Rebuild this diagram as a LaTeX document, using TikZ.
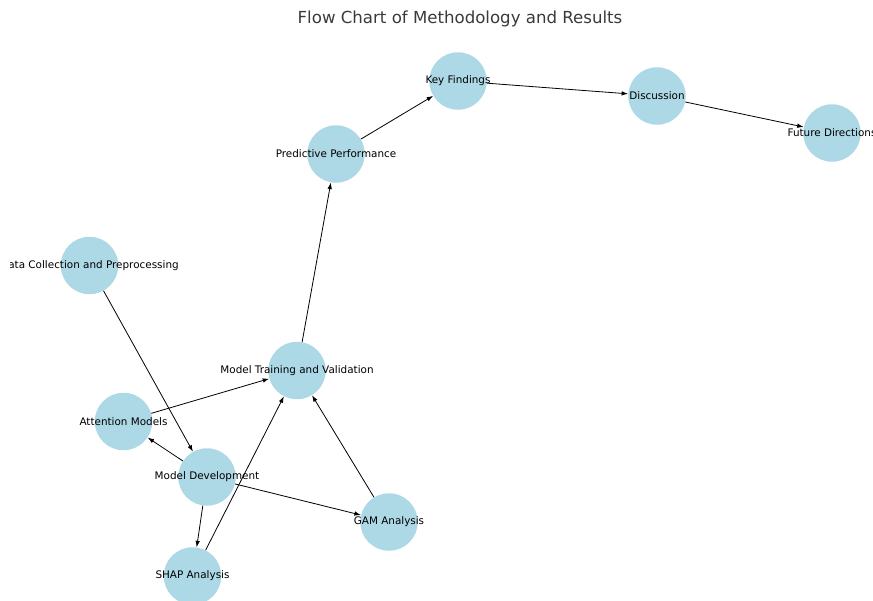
\documentclass[tikz,border=0pt]{standalone}
\usepackage{fontspec}
\setmainfont{DejaVu Sans}
\usetikzlibrary{arrows.meta}
\definecolor{nodeblue}{HTML}{ADD8E6}
\definecolor{titlegray}{HTML}{3A3A3A}
\begin{document}
\begin{tikzpicture}[x=1pt,y=-1pt,
  circ/.style={circle,fill=nodeblue,draw=none,minimum size=57.5pt,inner sep=0pt},
  lab/.style={font=\fontsize{10.4}{12}\selectfont,text=black,inner sep=0pt},
  edge/.style={draw=black,line width=0.8pt,-{Latex[length=6.5pt,width=4.5pt]}}]
\useasboundingbox (0,0) rectangle (873,600);
\clip (10,0) rectangle (873,600);
\node[font=\fontsize{16.6}{19}\selectfont,text=titlegray] (title) at (460,19) {Flow Chart of Methodology and Results};
% nodes
\node[circ] (kf) at (458,81) {};
\node[circ] (disc) at (657,96) {};
\node[circ] (fd) at (832,133) {};
\node[circ] (pp) at (336,154) {};
\node[circ] (dc) at (89.5,265.5) {};
\node[circ] (mt) at (297,370.5) {};
\node[circ] (am) at (123.5,421.5) {};
\node[circ] (md) at (207,477) {};
\node[circ] (gam) at (389,522) {};
\node[circ] (shap) at (192.5,576) {};
% edges
\draw[edge] (dc) -- (md);
\draw[edge] (md) -- (am);
\draw[edge] (md) -- (shap);
\draw[edge] (md) -- (gam);
\draw[edge] (am) -- (mt);
\draw[edge] (shap) -- (mt);
\draw[edge] (gam) -- (mt);
\draw[edge] (mt) -- (pp);
\draw[edge] (pp) -- (kf);
\draw[edge] (kf) -- (disc);
\draw[edge] (disc) -- (fd);
% labels
\node[lab] (kfl) at (kf) {Key Findings};
\node[lab] (discl) at (disc) {Discussion};
\node[lab] (fdl) at (fd) {Future Directions};
\node[lab] (ppl) at (pp) {Predictive Performance};
\node[lab] (dcl) at (dc) {Data Collection and Preprocessing};
\node[lab] (mtl) at (mt) {Model Training and Validation};
\node[lab] (aml) at (am) {Attention Models};
\node[lab] (mdl) at (md) {Model Development};
\node[lab] (gaml) at (gam) {GAM Analysis};
\node[lab] (shapl) at (shap) {SHAP Analysis};
\end{tikzpicture}
\end{document}
